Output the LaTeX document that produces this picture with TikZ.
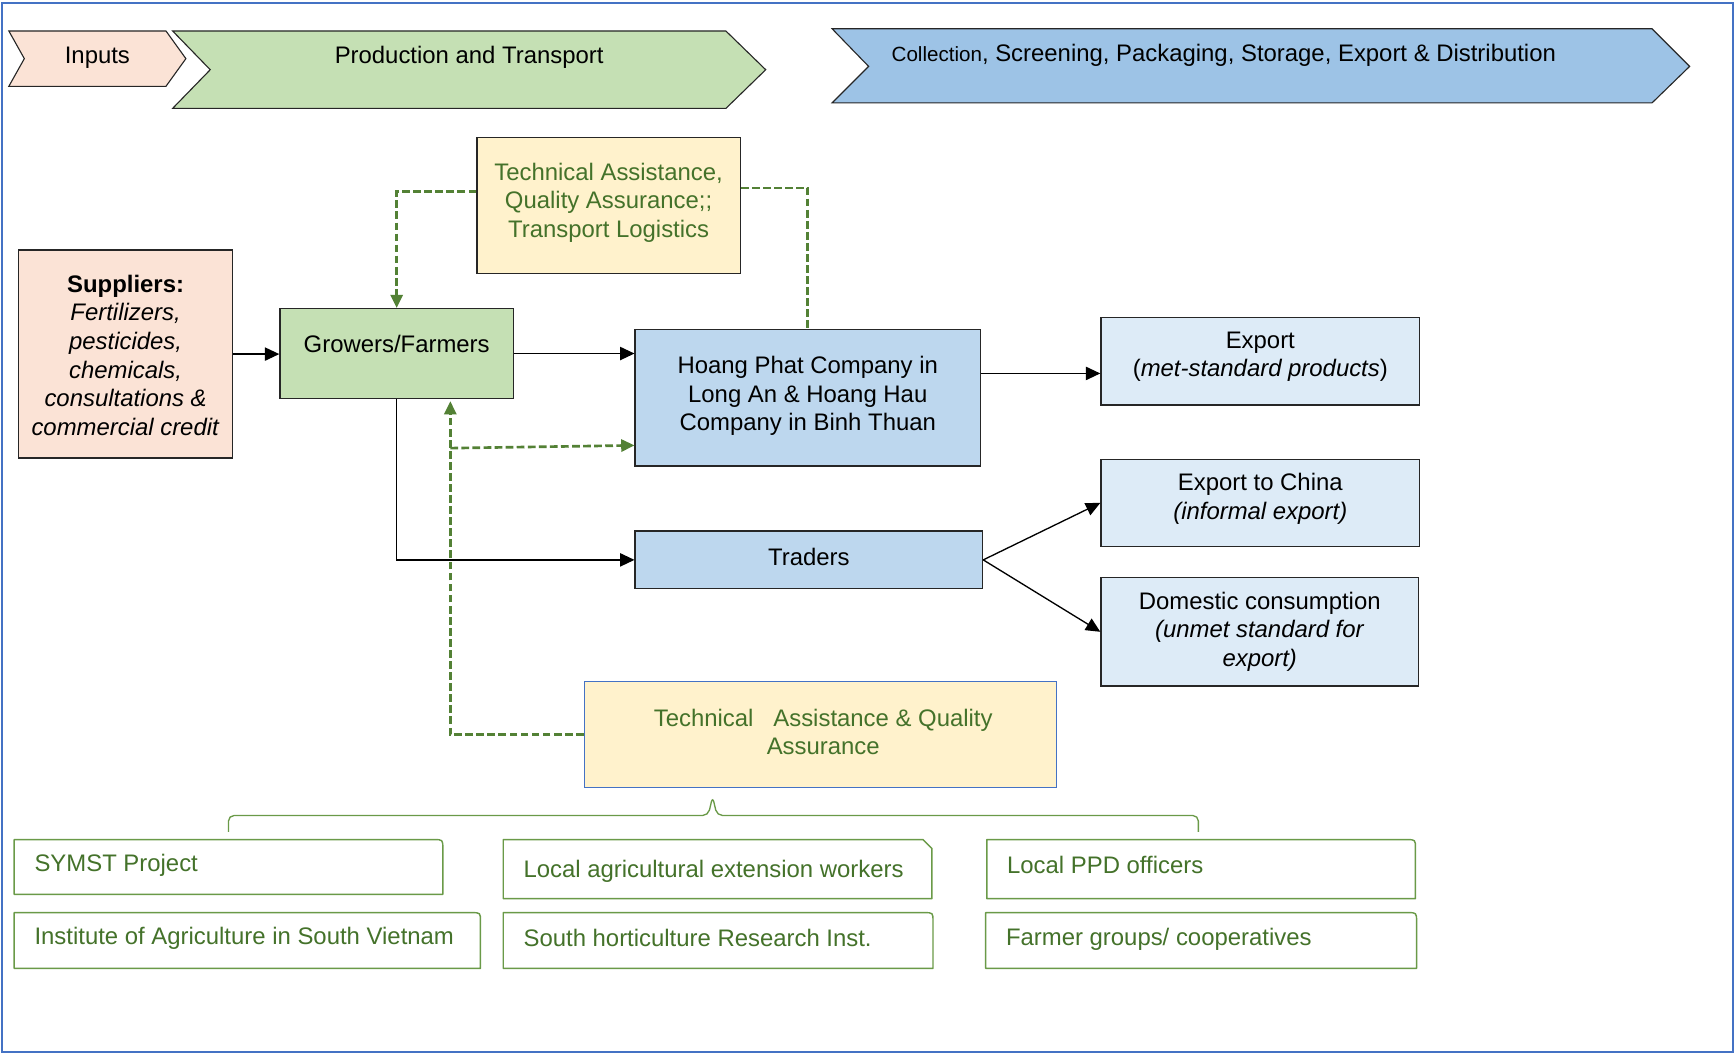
\documentclass[tikz,border=0pt]{standalone}
\usepackage{fontspec}
\setmainfont{Liberation Sans}
\usetikzlibrary{arrows.meta}

\definecolor{frameblue}{HTML}{4472C4}
\definecolor{peach}{HTML}{FBE3D6}
\definecolor{leaf}{HTML}{C5E0B4}
\definecolor{sky}{HTML}{9DC3E6}
\definecolor{steel}{HTML}{BDD7EE}
\definecolor{pale}{HTML}{DDEBF7}
\definecolor{cream}{HTML}{FFF2CC}
\definecolor{olive}{HTML}{44722A}
\definecolor{dashgreen}{HTML}{538135}
\definecolor{tabgreen}{HTML}{6A9A48}
\definecolor{edge}{HTML}{262626}

% tab-shaped outline: square left corners, rounded top-right corner
\newcommand\roundtab[1]{%
  \draw[tabline] (#1.south west) -- (#1.north west) -- ([xshift=-8pt]#1.north east)
    .. controls (#1.north east) .. ([yshift=-8pt]#1.north east) -- (#1.south east) -- cycle;}
% same outline with a clipped top-right corner
\newcommand\sniptab[1]{%
  \draw[tabline] (#1.south west) -- (#1.north west) -- ([xshift=-8pt]#1.north east)
    -- ([yshift=-8pt]#1.north east) -- (#1.south east) -- cycle;}

\begin{document}
\begin{tikzpicture}[x=1pt,y=-1pt,
  txt/.style={font=\fontsize{21.6pt}{25.8pt}\selectfont, align=center, inner sep=0pt},
  gtxt/.style={txt, text=olive},
  box/.style={draw=edge, line width=1.2pt, rectangle, inner sep=0pt},
  chev/.style={draw=edge, line width=1pt, line join=miter},
  conn/.style={draw=black, line width=1.2pt, -{Triangle[length=13pt,width=12pt]}},
  greendash/.style={draw=dashgreen, line width=2.4pt, dash pattern=on 7pt off 3pt},
  gtip/.style={-{Triangle[length=12pt,width=11pt,fill=dashgreen]}},
  tabline/.style={draw=tabgreen, line width=1.3pt, line join=round},
  tab/.style={draw=none, rectangle, inner sep=0pt},
  tabtxt/.style={anchor=west, inner sep=0pt, text=olive, font=\fontsize{21.6pt}{25.8pt}\selectfont},
  bracket/.style={draw=tabgreen, line width=1.2pt}
]
\fill[white] (0,0) rectangle (1568,952);
\useasboundingbox (0,0) rectangle (1568,952);
\draw[frameblue, line width=2pt] (2,3) rectangle (1566,950.5);

% stage banners
\draw[chev, fill=peach] (8,28) -- (150,28) -- (168,53) -- (150,78) -- (8,78) -- (22,53) -- cycle;
\node[txt] (inputs) at (88,52.5) {Inputs};
\draw[chev, fill=leaf] (156,28) -- (656,28) -- (692,63) -- (656,98) -- (156,98) -- (190,63) -- cycle;
\node[txt] (prod) at (424,52) {Production and Transport};
\draw[chev, fill=sky] (752,26) -- (1493,26) -- (1527,60) -- (1493,93) -- (752,93) -- (785,60) -- cycle;
\node[txt] (coll) at (1106,50) {{\fontsize{18.6pt}{21pt}\selectfont Collection}, Screening, Packaging, Storage, Export \& Distribution};

% main boxes
\node[box, fill=cream, minimum width=238pt, minimum height=123pt] (ta1) at (550,185.5) {};
\node[gtxt] (ta1t) at (550,183) {Technical Assistance,\\Quality Assurance;;\\Transport Logistics};

\node[box, fill=peach, minimum width=193pt, minimum height=188pt] (suppliers) at (113.5,320) {};
\node[txt] (supt) at (113.5,321) {\textbf{Suppliers:}\\\textit{Fertilizers,}\\\textit{pesticides,}\\\textit{chemicals,}\\\textit{consultations \&}\\\textit{commercial credit}};

\node[box, fill=leaf, minimum width=211pt, minimum height=81pt] (growers) at (358.5,319.5) {};
\node[txt] (growt) at (358.5,311) {Growers/Farmers};

\node[box, fill=steel, minimum width=312pt, minimum height=123pt] (hoang) at (730,359.5) {};
\node[txt] (hoangt) at (730,358) {Hoang Phat Company in\\Long An \& Hoang Hau\\Company in Binh Thuan};

\node[box, fill=steel, minimum width=314pt, minimum height=52pt] (traders) at (731,506) {};
\node[txt] (tradt) at (731,503) {Traders};

\node[box, fill=pale, minimum width=288pt, minimum height=79pt] (export) at (1139,326.5) {};
\node[txt] (expt) at (1139,322.5) {Export\\(\textit{met-standard products})};

\node[box, fill=pale, minimum width=288pt, minimum height=79pt] (china) at (1139,454.5) {};
\node[txt] (chinat) at (1139,451) {Export to China\\\textit{(informal export)}};

\node[box, fill=pale, minimum width=287pt, minimum height=98pt] (domestic) at (1138.5,571) {};
\node[txt] (domt) at (1138.5,571) {Domestic consumption\\\textit{(unmet standard for}\\\textit{export)}};

\node[rectangle, draw=frameblue, line width=1pt, fill=cream, minimum width=427pt, minimum height=96pt] (ta2) at (741.5,664) {};
\node[gtxt] (ta2t) at (744,661.5) {Technical~~~Assistance \& Quality\\Assurance};

% product flows
\draw[conn] (suppliers.east) -- (suppliers.east -| growers.west);
\draw[conn] (growers.east) -- (growers.east -| hoang.west);
\coordinate (hx) at ([yshift=22pt]hoang.east);
\draw[conn] (hx) -- (hx -| export.west);
\draw[conn] (growers.south) |- (traders.west);
\draw[conn] (traders.east) -- (china.west);
\draw[conn] (traders.east) -- (domestic.west);

% support links
\coordinate (ta1a) at ([yshift=12.5pt]ta1.west);
\draw[greendash, gtip] (ta1a) -| (growers.north);
\coordinate (ta1b) at ([yshift=15.5pt]ta1.east);
\draw[greendash] (ta1b) -| (hoang.north);
\coordinate (gfb) at ([xshift=48.5pt,yshift=-2pt]growers.south);
\draw[greendash, gtip] (ta2.west) -| (gfb);
\coordinate (jn) at (407,405);
\coordinate (hin) at ([yshift=-43pt]hoang.west);
\draw[greendash, gtip] (jn) -- (hin);

% support providers
\node[tab, minimum width=387pt, minimum height=49pt] (b1) at (206.5,783.5) {};
\node[tab, minimum width=387pt, minimum height=53pt] (b2) at (648.5,785.5) {};
\node[tab, minimum width=387pt, minimum height=53pt] (b3) at (1085.5,785.5) {};
\node[tab, minimum width=421pt, minimum height=50pt] (b4) at (223.5,850) {};
\node[tab, minimum width=388pt, minimum height=50pt] (b5) at (649,850) {};
\node[tab, minimum width=389pt, minimum height=50pt] (b6) at (1085.5,850) {};
\roundtab{b1}
\sniptab{b2}
\roundtab{b3}
\roundtab{b4}
\roundtab{b5}
\roundtab{b6}
\node[tabtxt] (b1t) at (31,782) {SYMST Project};
\node[tabtxt] (b2t) at (473,787.5) {Local agricultural extension workers};
\node[tabtxt] (b3t) at (910,782) {Local PPD officers};
\node[tabtxt] (b4t) at (31,848) {Institute of Agriculture in South Vietnam};
\node[tabtxt] (b5t) at (473,848) {South horticulture Research Inst.};
\node[tabtxt] (b6t) at (909,849) {Farmer groups/ cooperatives};

% grouping bracket
\coordinate (brL) at ([yshift=7pt]b1.north);
\coordinate (brR) at ([xshift=-2.5pt,yshift=7pt]b3.north);
\coordinate (brTip) at (644,720);
\draw[bracket, rounded corners=5pt] (brL) -- (brL |- 0,737) -- (640,737) -- (brTip) -- (648,737) -- (brR |- 0,737) -- (brR);
\end{tikzpicture}
\end{document}
